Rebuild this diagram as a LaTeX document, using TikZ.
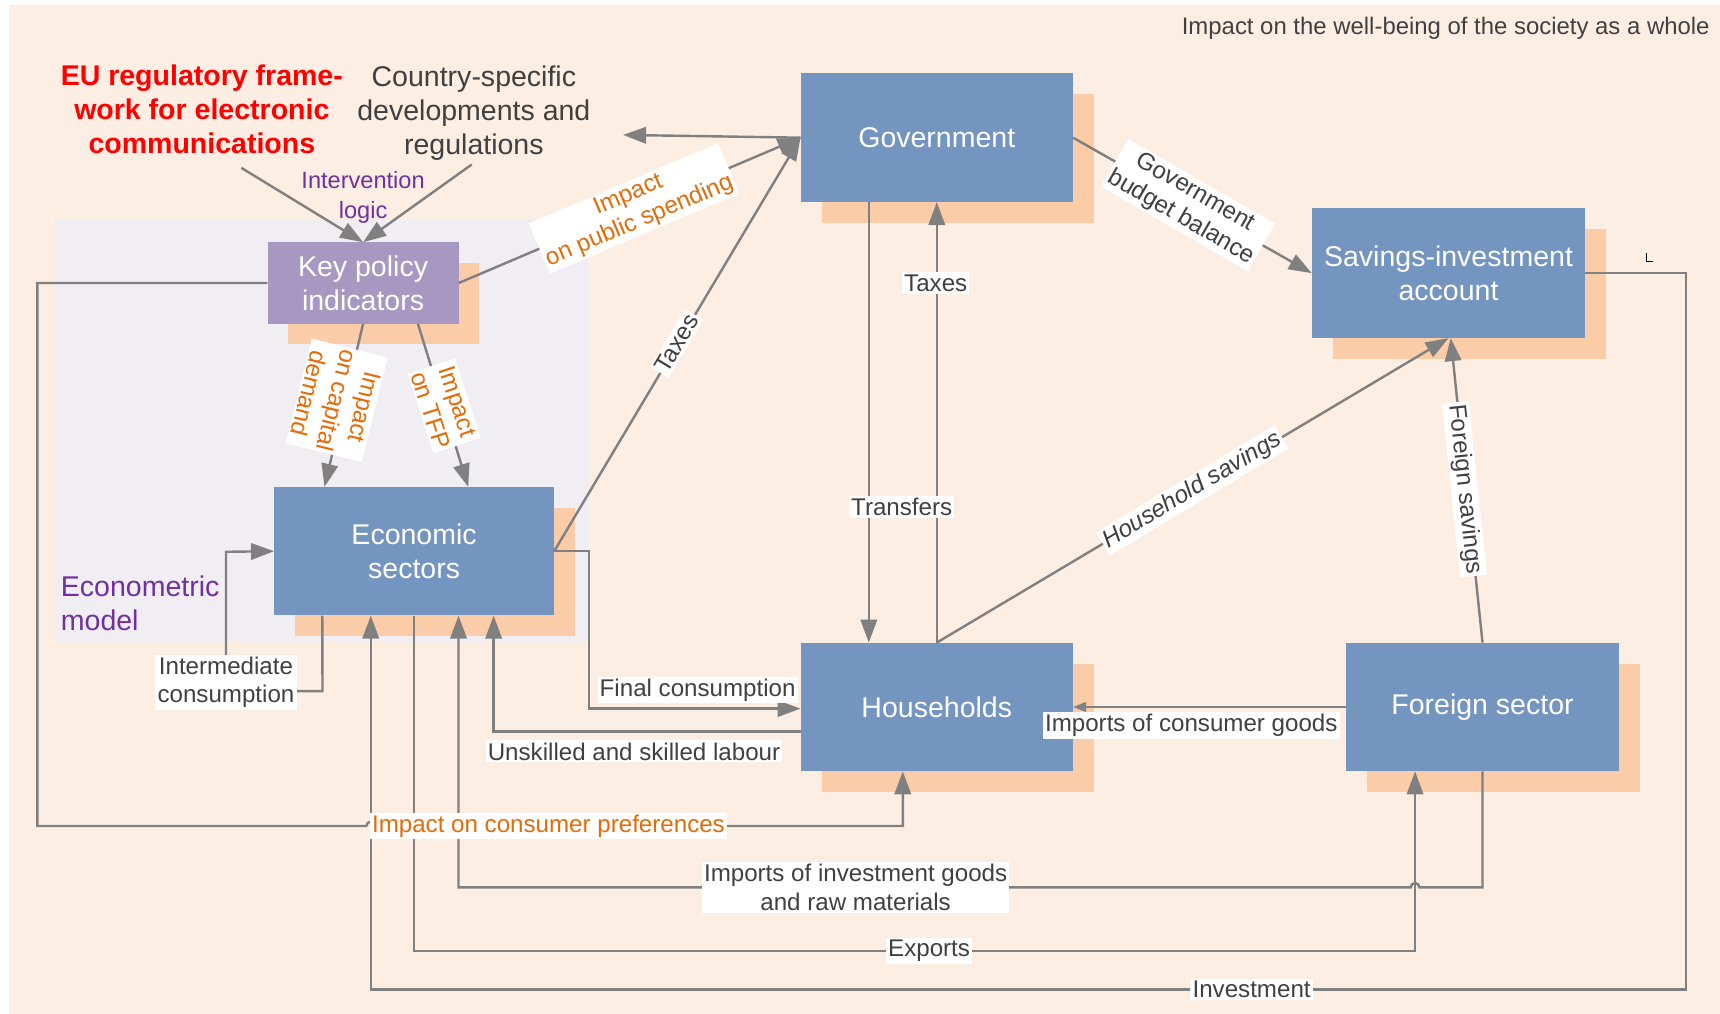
\documentclass[tikz,border=0pt]{standalone}
\usepackage{fontspec}
\setmainfont{Liberation Sans}
\usetikzlibrary{arrows.meta,shadows}
\definecolor{bgpeach}{RGB}{253,238,227}
\definecolor{lav}{RGB}{240,237,243}
\definecolor{shadowc}{RGB}{250,205,168}
\definecolor{boxblue}{RGB}{116,149,192}
\definecolor{kpipurple}{RGB}{166,152,192}
\definecolor{linegray}{RGB}{128,128,128}
\definecolor{darktext}{RGB}{64,64,64}
\definecolor{orangec}{RGB}{227,108,9}
\definecolor{purp}{RGB}{112,48,160}
\begin{document}
\begin{tikzpicture}[x=1pt,y=-1pt,
  box/.style={fill=boxblue,text=white,font=\fontsize{26}{31}\selectfont,align=center,inner sep=0pt,
    drop shadow={shadow xshift=19pt,shadow yshift=-19pt,fill=shadowc,opacity=1}},
  arr/.style={draw=linegray,line width=2.2pt,-{Triangle[length=21pt,width=15pt]}},
  thinarr/.style={draw=linegray,line width=1.3pt,-{Triangle[length=12pt,width=9pt]}},
  lbl/.style={fill=white,text=darktext,font=\fontsize{22}{26}\selectfont,inner sep=2pt,align=center},
  olbl/.style={lbl,text=orangec},
  bigtxt/.style={font=\fontsize{26}{31}\selectfont,align=center}]
\useasboundingbox (0,0) rectangle (1568,924);
\fill[white] (0,0) rectangle (1568,924);
\fill[bgpeach] (8,5) rectangle (1568,924);
\fill[lav] (50,200) rectangle (537,585);

% texts
\node[anchor=east,text=darktext,font=\fontsize{21.8}{26}\selectfont] (top) at (1562,26) {Impact on the well-being of the society as a whole};
\node[bigtxt,text=red,font=\bfseries\fontsize{26}{31}\selectfont] (eu) at (184,100) {EU regulatory frame-\\work for electronic\\communications};
\node[bigtxt,text=darktext] (cn) at (432,103) {Country-specific\\developments and\\regulations};
\node[align=center,text=purp,font=\fontsize{21.5}{27}\selectfont] (il) at (331,180) {Intervention\\logic};
\node[anchor=west,align=left,text=purp,font=\fontsize{26}{31}\selectfont] (em) at (52,550) {Econometric\\model};

% boxes
\node[box,fill=kpipurple,minimum width=174pt,minimum height=74pt] (kpi) at (331,258) {Key policy\\indicators};
\node[box,minimum width=248pt,minimum height=117pt] (gov) at (854,125.5) {Government};
\node[box,minimum width=249pt,minimum height=118pt] (sav) at (1320.5,249) {Savings-investment\\account};
\node[box,minimum width=255pt,minimum height=117pt] (eco) at (377.5,502.5) {Economic\\sectors};
\node[box,minimum width=248pt,minimum height=117pt] (hh) at (854,644.5) {Households};
\node[box,minimum width=249pt,minimum height=117pt] (fs) at (1351.5,644.5) {Foreign sector};

% coordinates
\coordinate (euS) at (220,153);
\coordinate (cnS) at (430,150);
\coordinate (cnA) at (568,123);
\coordinate (ic1) at (294,630);
\coordinate (ic2) at (206,503);
\coordinate (fc) at (537,646);
\coordinate (ul) at (450,667);
\coordinate (cp1) at (34,753);
\coordinate (cp2) at (823,753);
\coordinate (cpj) at (334,753);
\coordinate (ii) at (418,809);
\coordinate (iij) at (1294,809);
\coordinate (ex) at (1290,867);
\coordinate (iv1) at (1537,902);
\coordinate (iv2) at (338,902);

% connectors
\draw[arr] (euS) -- (kpi.north);
\draw[arr] (cnS) -- (kpi.north);
\draw[arr] (gov.west) -- (cnA);
\draw[arr] (kpi.east) -- (gov.west);
\draw[arr] (eco.east) -- (gov.west);
\draw[arr] (kpi.south) -- ([xshift=46pt]eco.north west);
\draw[arr] ([xshift=50pt]kpi.south) -- ([xshift=177pt]eco.north west);
\draw[arr] ([xshift=-62pt]gov.south) -- ([xshift=-62pt]hh.north);
\draw[arr] (hh.north) -- (gov.south);
\draw[arr] (gov.east) -- (sav.west);
\draw[arr] (hh.north) -- (sav.south);
\draw[arr] (fs.north) -- ([xshift=2pt]sav.south);
\draw[thinarr] (fs.west) -- (hh.east);
\draw[arr] ([xshift=44pt]eco.south west) -- (ic1) -- (ic2 |- ic1) -- (ic2) -- (eco.west);
\draw[arr] (eco.east) -| (fc) -- (hh.west |- fc);
\draw[arr] (hh.west |- ul) -- (ul) -- (ul |- eco.south);
\draw[arr] (kpi.west) -| (cp1) -- (cpj) arc[start angle=180,end angle=0,radius=4pt] -- (cp2) -- (cp2 |- hh.south);
\draw[arr] (fs.south) |- (iij) arc[start angle=0,end angle=180,radius=4pt] -- (ii) -- (ii |- eco.south);
\draw[arr] (eco.south) |- (ex) -- (ex |- fs.south);
\draw[arr] (sav.east) -| (iv1) -- (iv2) -- (iv2 |- eco.south);
\draw[black,line width=0.8pt] (1501,231) -- (1501,238) -- (1507,238);

% labels
\node[olbl,rotate=23] (lps) at (578,190) {Impact\\on public spending};
\node[olbl,rotate=-104] (lcd) at (307,365) {Impact\\on capital\\demand};
\node[olbl,rotate=-72] (ltfp) at (405,370) {Impact\\on TFP};
\node[lbl,rotate=59] (ltx1) at (617,313) {Taxes};
\node[lbl] (ltx2) at (853,258) {Taxes};
\node[lbl] (ltr) at (822,462) {Transfers};
\node[lbl,rotate=-30] (lgb) at (1083,187) {Government\\budget balance};
\node[lbl,rotate=31,font=\itshape\fontsize{22}{26}\selectfont] (lhs) at (1087,447) {Household savings};
\node[lbl,rotate=-84] (lfs) at (1335,446) {Foreign savings};
\node[lbl] (lic) at (1086,661) {Imports of consumer goods};
\node[lbl] (licn) at (206,622) {Intermediate\\consumption};
\node[lbl] (lfc) at (636,629) {Final consumption};
\node[lbl] (lul) at (578,685) {Unskilled and skilled labour};
\node[olbl] (lcp) at (500,753) {Impact on consumer preferences};
\node[lbl] (lii) at (780,809) {Imports of investment goods\\and raw materials};
\node[lbl] (lex) at (847,867) {Exports};
\node[lbl] (liv) at (1141,902) {Investment};
\end{tikzpicture}
\end{document}
